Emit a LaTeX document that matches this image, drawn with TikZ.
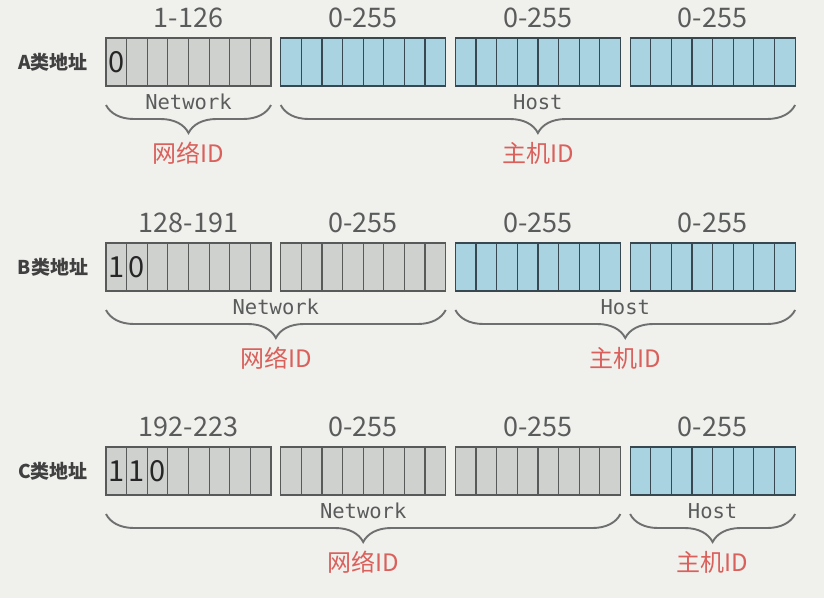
\documentclass[tikz,border=0pt]{standalone}
\usepackage{fontspec}
\newfontfamily\cjk{Noto Sans CJK SC}
\newfontfamily\mono{DejaVu Sans Mono}
\usetikzlibrary{decorations.pathreplacing}
\definecolor{bggray}{RGB}{240,241,237}
\definecolor{netfill}{RGB}{207,209,207}
\definecolor{hostfill}{RGB}{170,211,225}
\definecolor{edgegray}{RGB}{88,90,90}
\definecolor{edgeblue}{RGB}{55,72,80}
\definecolor{bracegray}{RGB}{110,112,112}
\definecolor{txtgray}{RGB}{90,92,92}
\definecolor{idred}{RGB}{218,96,92}

\begin{document}
\begin{tikzpicture}[x=1pt,y=-1pt,
  netbyte/.style={fill=netfill,draw=edgegray,line width=1.2pt},
  hostbyte/.style={fill=hostfill,draw=edgeblue,line width=1.2pt},
  rangetxt/.style={font=\cjk\fontsize{27}{27}\selectfont,text=txtgray},
  bitdigit/.style={font=\cjk\fontsize{29}{29}\selectfont,text=black!85},
  rowname/.style={font=\cjk\bfseries\fontsize{19}{19}\selectfont,text=black!75},
  parttxt/.style={font=\mono\fontsize{20.5}{20.5}\selectfont,text=txtgray},
  idlabel/.style={font=\cjk\fontsize{24}{24}\selectfont,text=idred},
  idbrace/.style={draw=bracegray,line width=1.9pt,decorate,
    decoration={brace,mirror,amplitude=28pt}}]
\fill[bggray] (0,0) rectangle (824,598);
% one row per address class
\foreach \cls/\ytop/\nnet/\firstrng/\bits in
  {A/38/1/1-126/{0},B/243/2/128-191/{1,0},C/447/3/192-223/{1,1,0}}{
  \pgfmathsetmacro\ybot{\ytop+48}
  \node[rowname] (\cls-name) at (53,\ytop+24) {\cls 类地址};
  % four bytes, 8 bits each
  \foreach \i in {0,...,3}{
    \pgfmathsetmacro\xa{106+174.7*\i}
    \ifnum\i<\nnet \def\kind{netbyte}\else\def\kind{hostbyte}\fi
    \draw[\kind] (\xa,\ytop) rectangle +(165,48);
    \foreach \k in {1,...,7}
      \draw[\kind,fill=none] (\xa+20.625*\k,\ytop) -- +(0,48);
    \ifnum\i=0 \def\rng{\firstrng}\else\def\rng{0-255}\fi
    \node[rangetxt] (\cls-byte\i) at (\xa+82.5,\ytop-20) {\rng};
  }
  % leading class bits
  \foreach \b [count=\k from 0] in \bits
    \node[bitdigit] (\cls-bit\k) at (116.3+20.625*\k,\ytop+24) {\b};
  % braces
  \pgfmathsetmacro\netend{106+174.7*(\nnet-1)+165}
  \pgfmathsetmacro\hoststart{106+174.7*\nnet}
  \pgfmathsetmacro\netmid{(106+\netend)/2}
  \pgfmathsetmacro\hostmid{(\hoststart+795.1)/2}
  \coordinate (\cls-nl) at (106,\ybot+19);
  \coordinate (\cls-nr) at (\netend,\ybot+19);
  \coordinate (\cls-hl) at (\hoststart,\ybot+19);
  \coordinate (\cls-hr) at (795.1,\ybot+19);
  \draw[idbrace] (\cls-nl) -- (\cls-nr);
  \draw[idbrace] (\cls-hl) -- (\cls-hr);
  \node[parttxt] (\cls-network) at (\netmid,\ybot+16) {Network};
  \node[parttxt] (\cls-host) at (\hostmid,\ybot+16) {Host};
  \node[idlabel] (\cls-netid) at (\netmid,\ybot+67) {网络ID};
  \node[idlabel] (\cls-hostid) at (\hostmid,\ybot+67) {主机ID};
}
\end{tikzpicture}
\end{document}
